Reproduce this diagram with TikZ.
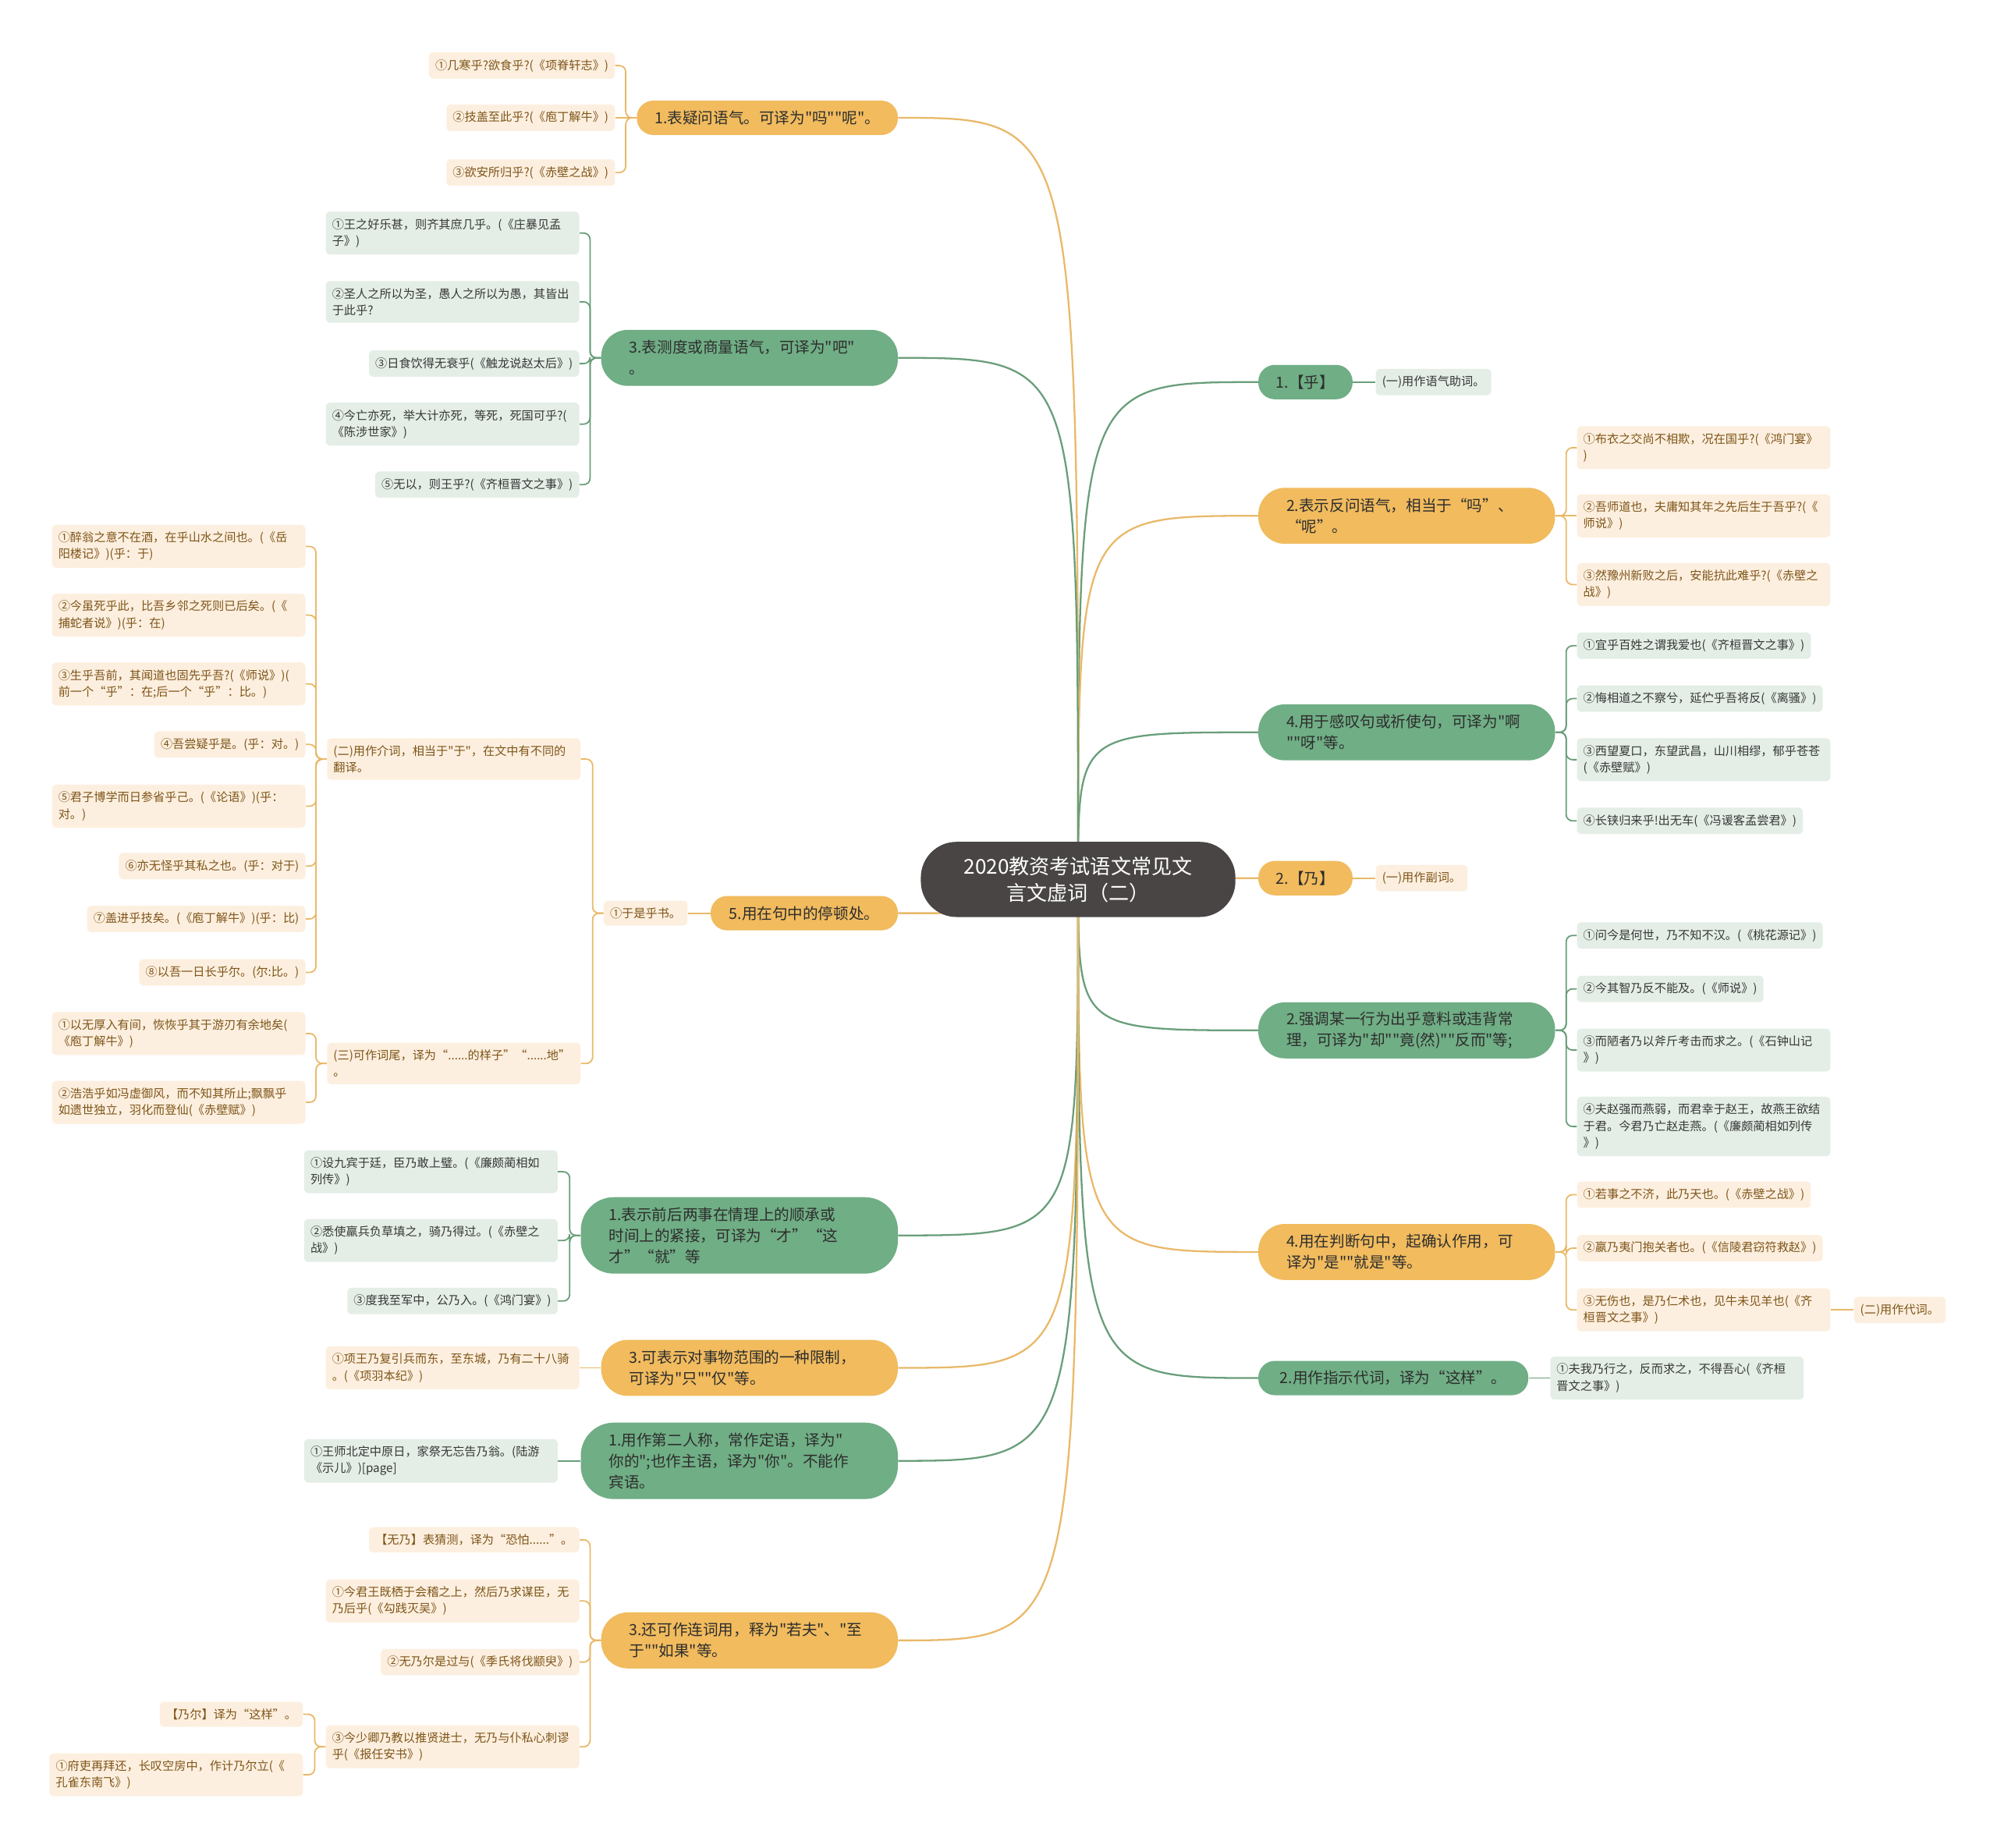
\documentclass[tikz,border=0pt]{standalone}
\usepackage{fontspec}
\newfontfamily\cjk{Noto Sans CJK SC}[Ligatures=TeXOff]
\definecolor{mo}{RGB}{241,187,94}
\definecolor{mg}{RGB}{112,174,133}
\definecolor{fo}{RGB}{253,239,223}
\definecolor{fg}{RGB}{228,238,230}
\definecolor{txo}{RGB}{125,85,25}
\definecolor{txg}{RGB}{55,55,55}
\definecolor{txm}{RGB}{45,45,45}
\definecolor{lno}{RGB}{233,185,105}
\definecolor{lng}{RGB}{105,158,122}
\definecolor{cdk}{RGB}{74,69,69}
\pgfdeclarelayer{bg}
\pgfsetlayers{bg,main}
\tikzset{
  centre/.style={fill=cdk, text=white, rounded corners=28, minimum width=247, minimum height=59, align=center, font=\cjk\fontsize{16}{21}\selectfont, inner sep=2},
  mainO/.style={fill=mo, text=txm, font=\cjk\fontsize{12}{16.5}\selectfont, align=left, inner xsep=22, inner ysep=3},
  mainG/.style={mainO, fill=mg},
  single/.style={inner xsep=8, align=center},
  pillA/.style={minimum height=27, rounded corners=13},
  pillB/.style={minimum height=44, rounded corners=21},
  pillC/.style={minimum height=60, rounded corners=26},
  leafO/.style={fill=fo, text=txo, font=\cjk\fontsize{9.3}{13}\selectfont, align=left, inner xsep=5, inner ysep=5.5, rounded corners=3.5},
  leafG/.style={leafO, fill=fg, text=txg},
  wide/.style={text width=189},
}
\begin{document}
\begin{tikzpicture}[x=1pt,y=-1pt]
\useasboundingbox (0,0) rectangle (1568,1451);
% centre
\node[centre] (c) at (846.5,690.5) {2020教资考试语文常见文\\言文虚词（二）};
% right main branches
\node[mainG, single, pillA, minimum width=74] (r1) at (1025,300) {1.【乎】};
\node[mainO, pillB, text width=189] (r2) at (1104.5,405) {2.表示反问语气，相当于“吗”、\\“呢”。};
\node[mainG, pillB, text width=189] (r3) at (1104.5,575) {4.用于感叹句或祈使句，可译为"啊\\""呀"等。};
\node[mainO, single, pillA, minimum width=74] (r4) at (1025,689.5) {2.【乃】};
\node[mainG, pillB, text width=189] (r5) at (1104.5,809) {2.强调某一行为出乎意料或违背常\\理，可译为"却""竟(然)""反而"等;};
\node[mainO, pillB, text width=189] (r6) at (1104.5,983) {4.用在判断句中，起确认作用，可\\译为"是""就是"等。};
\node[mainG, single, pillA, minimum width=212] (r7) at (1094,1082) {2.用作指示代词，译为“这样”。};
% left main branches
\node[mainO, single, pillA, minimum width=205] (l1) at (602.5,92.5) {1.表疑问语气。可译为"吗""呢"。};
\node[mainG, pillB, text width=189] (l2) at (588.5,281) {3.表测度或商量语气，可译为"吧"\\。};
\node[mainO, single, pillA, minimum width=147] (l3) at (631.5,717) {5.用在句中的停顿处。};
\node[mainG, pillC, text width=205] (l4) at (580.5,970) {1.表示前后两事在情理上的顺承或\\时间上的紧接，可译为“才”“这\\才”“就”等};
\node[mainO, pillB, text width=189] (l5) at (588.5,1074) {3.可表示对事物范围的一种限制，\\可译为"只""仅"等。};
\node[mainG, pillC, text width=205] (l6) at (580.5,1147) {1.用作第二人称，常作定语，译为"\\你的";也作主语，译为"你"。不能作\\宾语。};
\node[mainO, pillB, text width=189] (l7) at (588.5,1288) {3.还可作连词用，释为"若夫"、"至\\于""如果"等。};
% right leaves
\node[leafG, anchor=west] (r1a) at (1080,300) {(一)用作语气助词。};
\node[leafO, wide, anchor=west] (r2a) at (1238,351.5) {①布衣之交尚不相欺，况在国乎?(《鸿门宴》\\)};
\node[leafO, wide, anchor=west] (r2b) at (1238,405) {②吾师道也，夫庸知其年之先后生于吾乎?(《\\师说》)};
\node[leafO, wide, anchor=west] (r2c) at (1238,459) {③然豫州新败之后，安能抗此难乎?(《赤壁之\\战》)};
\node[leafG, anchor=west] (r3a) at (1238,507) {①宜乎百姓之谓我爱也(《齐桓晋文之事》)};
\node[leafG, anchor=west] (r3b) at (1238,548.5) {②悔相道之不察兮，延伫乎吾将反(《离骚》)};
\node[leafG, wide, anchor=west] (r3c) at (1238,596.5) {③西望夏口，东望武昌，山川相缪，郁乎苍苍\\(《赤壁赋》)};
\node[leafG, anchor=west] (r3d) at (1238,644.5) {④长铗归来乎!出无车(《冯谖客孟尝君》)};
\node[leafO, anchor=west] (r4a) at (1080,689.5) {(一)用作副词。};
\node[leafG, anchor=west] (r5a) at (1238,734.5) {①问今是何世，乃不知不汉。(《桃花源记》)};
\node[leafG, anchor=west] (r5b) at (1238,776.5) {②今其智乃反不能及。(《师说》)};
\node[leafG, wide, anchor=west] (r5c) at (1238,824.5) {③而陋者乃以斧斤考击而求之。(《石钟山记\\》)};
\node[leafG, wide, anchor=west] (r5d) at (1238,884.5) {④夫赵强而燕弱，而君幸于赵王，故燕王欲结\\于君。今君乃亡赵走燕。(《廉颇蔺相如列传\\》)};
\node[leafO, anchor=west] (r6a) at (1238,938) {①若事之不济，此乃天也。(《赤壁之战》)};
\node[leafO, anchor=west] (r6b) at (1238,980) {②嬴乃夷门抱关者也。(《信陵君窃符救赵》)};
\node[leafO, wide, anchor=west] (r6c) at (1238,1028.5) {③无伤也，是乃仁术也，见牛未见羊也(《齐\\桓晋文之事》)};
\node[leafO, anchor=west] (r6d) at ([xshift=18pt]r6c.east) {(二)用作代词。};
\node[leafG, wide, anchor=west] (r7a) at (1217,1082) {①夫我乃行之，反而求之，不得吾心(《齐桓\\晋文之事》)};
% left leaves
\node[leafO, anchor=east] (l1a) at (483,51.5) {①几寒乎?欲食乎?(《项脊轩志》)};
\node[leafO, anchor=east] (l1b) at (483,92.5) {②技盖至此乎?(《庖丁解牛》)};
\node[leafO, anchor=east] (l1c) at (483,135.5) {③欲安所归乎?(《赤壁之战》)};
\node[leafG, wide, anchor=east] (l2a) at (455,183) {①王之好乐甚，则齐其庶几乎。(《庄暴见孟\\子》)};
\node[leafG, wide, anchor=east] (l2b) at (455,237) {②圣人之所以为圣，愚人之所以为愚，其皆出\\于此乎?};
\node[leafG, anchor=east] (l2c) at (455,285.5) {③日食饮得无衰乎(《触龙说赵太后》)};
\node[leafG, wide, anchor=east] (l2d) at (455,333) {④今亡亦死，举大计亦死，等死，死国可乎?(\\《陈涉世家》)};
\node[leafG, anchor=east] (l2e) at (455,380.5) {⑤无以，则王乎?(《齐桓晋文之事》)};
\node[leafO, anchor=east] (l3a) at (540,717) {①于是乎书。};
\node[leafO, wide, anchor=east] (l3b) at (456,596) {(二)用作介词，相当于"于"，在文中有不同的\\翻译。};
\node[leafO, wide, anchor=east] (l3c) at (456,835) {(三)可作词尾，译为“......的样子”“......地”\\。};
\node[leafO, wide, anchor=east] (e1) at (240,429) {①醉翁之意不在酒，在乎山水之间也。(《岳\\阳楼记》)(乎：于)};
\node[leafO, wide, anchor=east] (e2) at (240,483) {②今虽死乎此，比吾乡邻之死则已后矣。(《\\捕蛇者说》)(乎：在)};
\node[leafO, wide, anchor=east] (e3) at (240,537) {③生乎吾前，其闻道也固先乎吾?(《师说》)(\\前一个“乎”：在;后一个“乎”：比。)};
\node[leafO, anchor=east] (e4) at (240,584.5) {④吾尝疑乎是。(乎：对。)};
\node[leafO, wide, anchor=east] (e5) at (240,633) {⑤君子博学而日参省乎己。(《论语》)(乎：\\对。)};
\node[leafO, anchor=east] (e6) at (240,680) {⑥亦无怪乎其私之也。(乎：对于)};
\node[leafO, anchor=east] (e7) at (240,721.5) {⑦盖进乎技矣。(《庖丁解牛》)(乎：比)};
\node[leafO, anchor=east] (e8) at (240,763.5) {⑧以吾一日长乎尔。(尔:比。)};
\node[leafO, wide, anchor=east] (f1) at (240,811.5) {①以无厚入有间，恢恢乎其于游刃有余地矣(\\《庖丁解牛》)};
\node[leafO, wide, anchor=east] (f2) at (240,865.5) {②浩浩乎如冯虚御风，而不知其所止;飘飘乎\\如遗世独立，羽化而登仙(《赤壁赋》)};
\node[leafG, wide, anchor=east] (l4a) at (438,920) {①设九宾于廷，臣乃敢上璧。(《廉颇蔺相如\\列传》)};
\node[leafG, wide, anchor=east] (l4b) at (438,974) {②悉使羸兵负草填之，骑乃得过。(《赤壁之\\战》)};
\node[leafG, anchor=east] (l4c) at (438,1021.5) {③度我至军中，公乃入。(《鸿门宴》)};
\node[leafO, wide, anchor=east] (l5a) at (455,1074) {①项王乃复引兵而东，至东城，乃有二十八骑\\。(《项羽本纪》)};
\node[leafG, wide, anchor=east] (l6a) at (438,1147) {①王师北定中原日，家祭无忘告乃翁。(陆游\\《示儿》)[page]};
\node[leafO, anchor=east] (l7a) at (455,1209) {【无乃】表猜测，译为“恐怕......”。};
\node[leafO, wide, anchor=east] (l7b) at (455,1257) {①今君王既栖于会稽之上，然后乃求谋臣，无\\乃后乎(《勾践灭吴》)};
\node[leafO, anchor=east] (l7c) at (455,1305) {②无乃尔是过与(《季氏将伐颛臾》)};
\node[leafO, wide, anchor=east] (l7d) at (455,1371.5) {③今少卿乃教以推贤进士，无乃与仆私心刺谬\\乎(《报任安书》)};
\node[leafO, anchor=east] (l7e) at (238,1346) {【乃尔】译为“这样”。};
\node[leafO, wide, anchor=east] (l7f) at (238,1393.5) {①府吏再拜还，长叹空房中，作计乃尔立(《\\孔雀东南飞》)};
% connectors
\begin{pgfonlayer}{bg}
\fill[white] (0,0) rectangle (1568,1451);
\foreach \n/\k in {r1/lng, r2/lno, r3/lng, r4/lno, r5/lng, r6/lno, r7/lng}
  \draw[draw=\k, line width=1.4] (c.center) .. controls (c.center |- \n.west) .. (\n.west);
\foreach \n/\k in {l1/lno, l2/lng, l3/lno, l4/lng, l5/lno, l6/lng, l7/lno}
  \draw[draw=\k, line width=1.4] (c.center) .. controls (c.center |- \n.east) .. (\n.east);
% brackets, right side
\foreach \p/\q/\k in {r2/r2a/lno, r2/r2c/lno, r3/r3a/lng, r3/r3b/lng, r3/r3c/lng, r3/r3d/lng, r5/r5a/lng, r5/r5b/lng, r5/r5c/lng, r5/r5d/lng, r6/r6a/lno, r6/r6b/lno, r6/r6c/lno}
  \draw[draw=\k, line width=1.1, rounded corners=5] (\p.east) -- ++(8.5,0) |- (\q.west);
\foreach \p/\q/\k in {r1/r1a/lng, r2/r2b/lno, r4/r4a/lno, r6c/r6d/lno, r7/r7a/lng}
  \draw[draw=\k, line width=1.1] (\p.east) -- (\p.east -| \q.west);
% brackets, left side
\foreach \p/\q/\k in {l1/l1a/lno, l1/l1c/lno, l2/l2a/lng, l2/l2b/lng, l2/l2c/lng, l2/l2d/lng, l2/l2e/lng, l3a/l3b/lno, l3a/l3c/lno, l3b/e1/lno, l3b/e2/lno, l3b/e3/lno, l3b/e4/lno, l3b/e5/lno, l3b/e6/lno, l3b/e7/lno, l3b/e8/lno, l3c/f1/lno, l3c/f2/lno, l4/l4a/lng, l4/l4b/lng, l4/l4c/lng, l7/l7a/lno, l7/l7b/lno, l7/l7c/lno, l7/l7d/lno, l7d/l7e/lno, l7d/l7f/lno}
  \draw[draw=\k, line width=1.1, rounded corners=5] (\p.west) -- ++(-8.5,0) |- (\q.east);
\foreach \p/\q/\k in {l1/l1b/lno, l3/l3a/lno, l5/l5a/lno, l6/l6a/lng}
  \draw[draw=\k, line width=1.1] (\p.west) -- (\p.west -| \q.east);
\end{pgfonlayer}
\end{tikzpicture}
\end{document}
